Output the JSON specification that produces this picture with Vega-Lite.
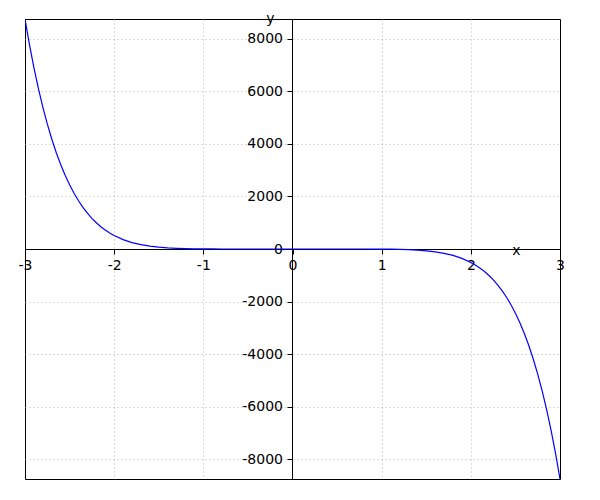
{
  "$schema": "https://vega.github.io/schema/vega-lite/v6.json",
  "width": 535,
  "height": 460,
  "autosize": {"type": "none"},
  "padding": {"left": 25, "top": 19, "right": 40, "bottom": 21},
  "background": "white",
  "config": {
    "view": {"stroke": "black", "strokeWidth": 1},
    "font": "DejaVu Sans",
    "axis": {
      "labelFont": "DejaVu Sans",
      "labelFontSize": 14,
      "labelColor": "black",
      "titleFont": "DejaVu Sans",
      "titleFontSize": 14,
      "titleFontWeight": "normal",
      "titleColor": "black",
      "domainColor": "black",
      "tickColor": "black",
      "tickSize": 5,
      "labelPadding": 4.5,
      "gridColor": "#b8b8b8",
      "gridDash": [1, 3],
      "gridWidth": 1,
      "labelFlush": false,
      "labelOverlap": false
    }
  },
  "data": {
    "values": [
      {"x": -3.0, "y": 8748},
      {"x": -2.95, "y": 7777.04},
      {"x": -2.9, "y": 6899.79},
      {"x": -2.85, "y": 6109.04},
      {"x": -2.8, "y": 5397.17},
      {"x": -2.75, "y": 4757.6},
      {"x": -2.7, "y": 4184.14},
      {"x": -2.65, "y": 3670.97},
      {"x": -2.6, "y": 3212.72},
      {"x": -2.55, "y": 2804.41},
      {"x": -2.5, "y": 2441.41},
      {"x": -2.45, "y": 2119.45},
      {"x": -2.4, "y": 1834.59},
      {"x": -2.35, "y": 1583.2},
      {"x": -2.3, "y": 1361.93},
      {"x": -2.25, "y": 1167.72},
      {"x": -2.2, "y": 997.74},
      {"x": -2.15, "y": 849.43},
      {"x": -2.1, "y": 720.44},
      {"x": -2.05, "y": 608.61},
      {"x": -2.0, "y": 512},
      {"x": -1.9, "y": 357.549},
      {"x": -1.8, "y": 244.888},
      {"x": -1.7, "y": 164.135},
      {"x": -1.6, "y": 107.374},
      {"x": -1.5, "y": 68.344},
      {"x": -1.4, "y": 42.165},
      {"x": -1.3, "y": 25.099},
      {"x": -1.2, "y": 14.333},
      {"x": -1.1, "y": 7.795},
      {"x": -1.0, "y": 4},
      {"x": -0.9, "y": 1.913},
      {"x": -0.8, "y": 0.839},
      {"x": -0.7, "y": 0.329},
      {"x": -0.6, "y": 0.112},
      {"x": -0.5, "y": 0.03125},
      {"x": -0.4, "y": 0.00655},
      {"x": -0.3, "y": 0.000875},
      {"x": -0.2, "y": 0.0000512},
      {"x": -0.1, "y": 0.0000004},
      {"x": 0.0, "y": 0},
      {"x": 0.1, "y": -0.0000004},
      {"x": 0.2, "y": -0.0000512},
      {"x": 0.3, "y": -0.000875},
      {"x": 0.4, "y": -0.00655},
      {"x": 0.5, "y": -0.03125},
      {"x": 0.6, "y": -0.112},
      {"x": 0.7, "y": -0.329},
      {"x": 0.8, "y": -0.839},
      {"x": 0.9, "y": -1.913},
      {"x": 1.0, "y": -4},
      {"x": 1.1, "y": -7.795},
      {"x": 1.2, "y": -14.333},
      {"x": 1.3, "y": -25.099},
      {"x": 1.4, "y": -42.165},
      {"x": 1.5, "y": -68.344},
      {"x": 1.6, "y": -107.374},
      {"x": 1.7, "y": -164.135},
      {"x": 1.8, "y": -244.888},
      {"x": 1.9, "y": -357.549},
      {"x": 2.0, "y": -512},
      {"x": 2.05, "y": -608.61},
      {"x": 2.1, "y": -720.44},
      {"x": 2.15, "y": -849.43},
      {"x": 2.2, "y": -997.74},
      {"x": 2.25, "y": -1167.72},
      {"x": 2.3, "y": -1361.93},
      {"x": 2.35, "y": -1583.2},
      {"x": 2.4, "y": -1834.59},
      {"x": 2.45, "y": -2119.45},
      {"x": 2.5, "y": -2441.41},
      {"x": 2.55, "y": -2804.41},
      {"x": 2.6, "y": -3212.72},
      {"x": 2.65, "y": -3670.97},
      {"x": 2.7, "y": -4184.14},
      {"x": 2.75, "y": -4757.6},
      {"x": 2.8, "y": -5397.17},
      {"x": 2.85, "y": -6109.04},
      {"x": 2.9, "y": -6899.79},
      {"x": 2.95, "y": -7777.04},
      {"x": 3.0, "y": -8748}
    ]
  },
  "mark": {"type": "line", "color": "#0000ff", "strokeWidth": 1.2, "clip": true},
  "encoding": {
    "x": {
      "field": "x",
      "type": "quantitative",
      "scale": {"domain": [-3, 3], "nice": false, "zero": false},
      "axis": {
        "orient": "bottom",
        "offset": -230,
        "values": [-3, -2, -1, 0, 1, 2, 3],
        "labelExpr": "datum.value < 0 ? '-' + abs(datum.value) : '' + datum.value",
        "grid": true,
        "gridOpacity": {"condition": {"test": "abs(datum.value) == 3 || datum.value == 0", "value": 0}, "value": 1},
        "title": "x",
        "titleAngle": 0,
        "titleAlign": "center",
        "titleBaseline": "alphabetic",
        "titleX": 491,
        "titleY": 5
      }
    },
    "y": {
      "field": "y",
      "type": "quantitative",
      "scale": {"domain": [-8748, 8748], "nice": false, "zero": false},
      "axis": {
        "orient": "left",
        "offset": -267,
        "values": [-8000, -6000, -4000, -2000, 0, 2000, 4000, 6000, 8000],
        "labelExpr": "datum.value < 0 ? '-' + abs(datum.value) : '' + datum.value",
        "grid": true,
        "gridOpacity": {"condition": {"test": "datum.value == 0", "value": 0}, "value": 1},
        "title": "y",
        "titleAngle": 0,
        "titleAlign": "center",
        "titleBaseline": "alphabetic",
        "titleX": -22,
        "titleY": 3
      }
    }
  }
}
